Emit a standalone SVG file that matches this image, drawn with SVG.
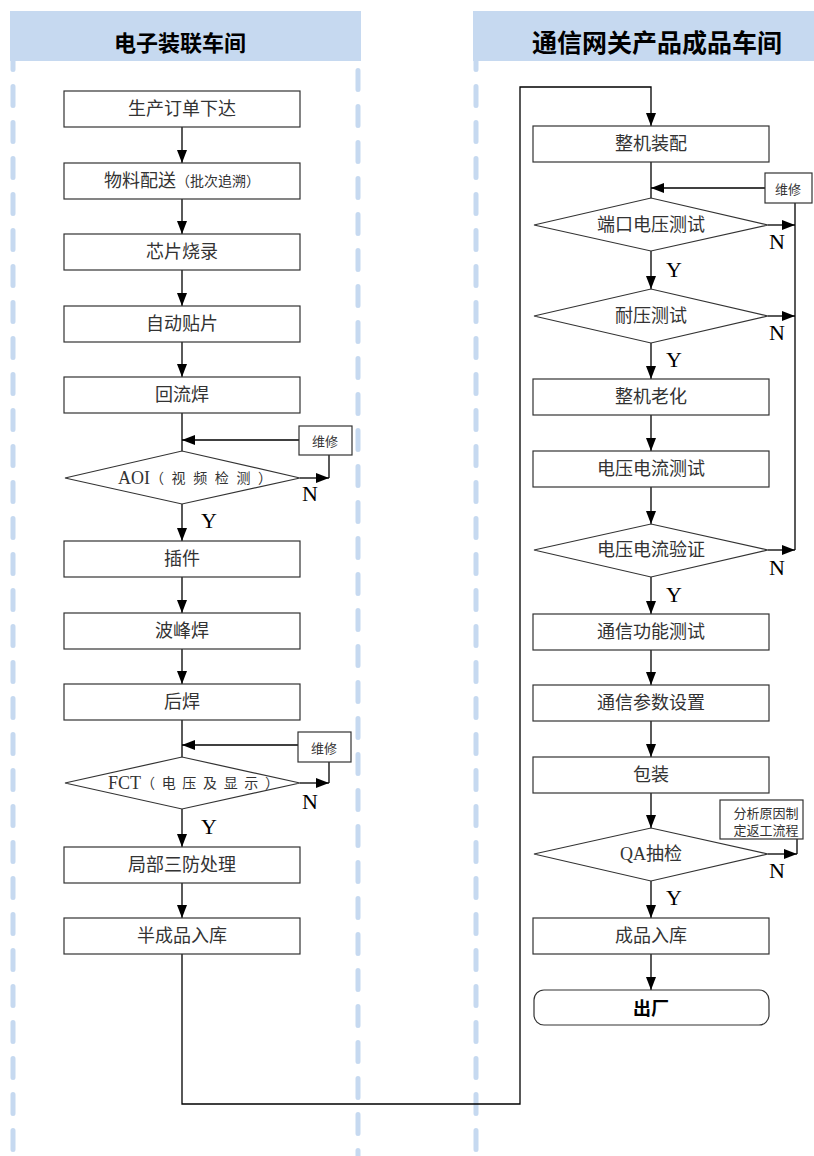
<svg xmlns="http://www.w3.org/2000/svg" width="814" height="1156" viewBox="0 0 814 1156">
<style>
.lane{stroke:#c6d9f0;stroke-width:5;stroke-linecap:round;stroke-dasharray:19 17;fill:none}
.hdr{fill:#c6d9f0}
.title{font-family:"Noto Sans CJK SC",sans-serif;font-weight:bold;fill:#000;text-anchor:middle;dominant-baseline:central}
.box{fill:#fff;stroke:#333;stroke-width:1.2}
.t{font-family:"Liberation Serif","Noto Sans CJK SC",serif;font-size:18px;fill:#333;text-anchor:middle;dominant-baseline:central}
.tl{font-family:"Liberation Serif","Noto Sans CJK SC",serif;font-size:18px;fill:#333;text-anchor:start;dominant-baseline:central}
.s{font-family:"Liberation Serif","Noto Sans CJK SC",serif;font-size:14px;fill:#333}
.sm{font-family:"Noto Sans CJK SC",sans-serif;font-size:13px;fill:#333;text-anchor:middle;dominant-baseline:central}
.yn{font-family:"Liberation Serif",serif;font-size:22px;fill:#000}
.c{fill:none;stroke:#000;stroke-width:1.3}
.end{font-family:"Noto Sans CJK SC",sans-serif;font-size:18px;font-weight:bold;fill:#000;text-anchor:middle;dominant-baseline:central}
</style>
<defs>
<marker id="ah" markerUnits="userSpaceOnUse" markerWidth="14" markerHeight="12" refX="13" refY="5" orient="auto">
<path d="M0,0 L13,5 L0,10 Z" fill="#000"/>
</marker>
</defs>
<g id="lanes">
<line class="lane" x1="13" y1="50.5" x2="13" y2="1160"/>
<line class="lane" x1="358" y1="70.5" x2="358" y2="1160"/>
<line class="lane" x1="476" y1="50.5" x2="476" y2="1160"/>
<rect class="hdr" x="10" y="11" width="351" height="50"/>
<rect class="hdr" x="473" y="11" width="341" height="50"/>
<text class="title" x="180" y="41" font-size="22">电子装联车间</text>
<text class="title" x="657" y="41" font-size="25">通信网关产品成品车间</text>
</g>
<g id="connectors">
<path class="c" d="M182,127 V163" marker-end="url(#ah)"/>
<path class="c" d="M182,199 V234" marker-end="url(#ah)"/>
<path class="c" d="M182,270 V306" marker-end="url(#ah)"/>
<path class="c" d="M182,342 V377" marker-end="url(#ah)"/>
<path class="c" d="M182,413 V451"/>
<path class="c" d="M299,440 H182" marker-end="url(#ah)"/>
<path class="c" d="M329,455 V478"/>
<path class="c" d="M300,478 H329" marker-end="url(#ah)"/>
<path class="c" d="M182,504 V541" marker-end="url(#ah)"/>
<path class="c" d="M182,577 V613" marker-end="url(#ah)"/>
<path class="c" d="M182,649 V684" marker-end="url(#ah)"/>
<path class="c" d="M182,720 V757"/>
<path class="c" d="M298,745 H182" marker-end="url(#ah)"/>
<path class="c" d="M329,762 V783"/>
<path class="c" d="M300,783 H329" marker-end="url(#ah)"/>
<path class="c" d="M182,809 V847" marker-end="url(#ah)"/>
<path class="c" d="M182,883 V918" marker-end="url(#ah)"/>
<path class="c" d="M182,954 V1104 H520 V87 H651 V126" marker-end="url(#ah)"/>
<path class="c" d="M651,162 V198"/>
<path class="c" d="M765,188 H651" marker-end="url(#ah)"/>
<path class="c" d="M795,203 V550"/>
<path class="c" d="M768,225 H795" marker-end="url(#ah)"/>
<path class="c" d="M651,251 V289" marker-end="url(#ah)"/>
<path class="c" d="M768,316 H795" marker-end="url(#ah)"/>
<path class="c" d="M651,343 V379" marker-end="url(#ah)"/>
<path class="c" d="M651,415 V451" marker-end="url(#ah)"/>
<path class="c" d="M651,487 V524" marker-end="url(#ah)"/>
<path class="c" d="M768,550 H795" marker-end="url(#ah)"/>
<path class="c" d="M651,577 V614" marker-end="url(#ah)"/>
<path class="c" d="M651,650 V685" marker-end="url(#ah)"/>
<path class="c" d="M651,721 V757" marker-end="url(#ah)"/>
<path class="c" d="M651,793 V828" marker-end="url(#ah)"/>
<path class="c" d="M797,839 V854"/>
<path class="c" d="M768,854 H797" marker-end="url(#ah)"/>
<path class="c" d="M651,881 V918" marker-end="url(#ah)"/>
<path class="c" d="M651,954 V990" marker-end="url(#ah)"/>
</g>
<g id="n1"><rect class="box" x="64" y="91" width="236" height="36"/><text class="t" x="182" y="109">生产订单下达</text></g>
<g id="n2"><rect class="box" x="64" y="163" width="236" height="36"/><text class="t" x="182" y="181">物料配送<tspan font-size="14px">（批次追溯）</tspan></text></g>
<g id="n3"><rect class="box" x="64" y="234" width="236" height="36"/><text class="t" x="182" y="252">芯片烧录</text></g>
<g id="n4"><rect class="box" x="64" y="306" width="236" height="36"/><text class="t" x="182" y="324">自动贴片</text></g>
<g id="n5"><rect class="box" x="64" y="377" width="236" height="36"/><text class="t" x="182" y="395">回流焊</text></g>
<g id="r1"><rect class="box" x="299" y="426" width="53" height="29"/><text class="sm" x="325" y="440">维修</text></g>
<g id="d1"><polygon class="box" points="65,478 182,451 300,478 182,504"/><text class="tl" x="118" y="478">AOI<tspan class="s" textLength="122" lengthAdjust="spacing">（视频检测）</tspan></text></g>
<g id="n6"><rect class="box" x="64" y="541" width="236" height="36"/><text class="t" x="182" y="559">插件</text></g>
<g id="n7"><rect class="box" x="64" y="613" width="236" height="36"/><text class="t" x="182" y="631">波峰焊</text></g>
<g id="n8"><rect class="box" x="64" y="684" width="236" height="36"/><text class="t" x="182" y="702">后焊</text></g>
<g id="r2"><rect class="box" x="298" y="732" width="53" height="30"/><text class="sm" x="324" y="747">维修</text></g>
<g id="d2"><polygon class="box" points="65,783 182,757 300,783 182,809"/><text class="tl" x="108" y="783">FCT<tspan class="s" textLength="138" lengthAdjust="spacing">（电压及显示）</tspan></text></g>
<g id="n9"><rect class="box" x="64" y="847" width="236" height="36"/><text class="t" x="182" y="865">局部三防处理</text></g>
<g id="n10"><rect class="box" x="64" y="918" width="236" height="36"/><text class="t" x="182" y="936">半成品入库</text></g>
<g id="m1"><rect class="box" x="533" y="126" width="236" height="36"/><text class="t" x="651" y="144">整机装配</text></g>
<g id="r3"><rect class="box" x="765" y="173" width="47" height="30"/><text class="sm" x="788" y="188">维修</text></g>
<g id="md1"><polygon class="box" points="534,225 651,198 768,225 651,251"/><text class="t" x="651" y="225">端口电压测试</text></g>
<g id="md2"><polygon class="box" points="534,316 651,289 768,316 651,343"/><text class="t" x="651" y="316">耐压测试</text></g>
<g id="m2"><rect class="box" x="533" y="379" width="236" height="36"/><text class="t" x="651" y="397">整机老化</text></g>
<g id="m3"><rect class="box" x="533" y="451" width="236" height="36"/><text class="t" x="651" y="469">电压电流测试</text></g>
<g id="md3"><polygon class="box" points="534,550 651,524 768,550 651,577"/><text class="t" x="651" y="550">电压电流验证</text></g>
<g id="m4"><rect class="box" x="533" y="614" width="236" height="36"/><text class="t" x="651" y="632">通信功能测试</text></g>
<g id="m5"><rect class="box" x="533" y="685" width="236" height="36"/><text class="t" x="651" y="703">通信参数设置</text></g>
<g id="m6"><rect class="box" x="533" y="757" width="236" height="36"/><text class="t" x="651" y="775">包装</text></g>
<g id="r4"><rect class="box" x="720" y="800" width="83" height="39"/><text class="sm" x="766" y="812">分析原因制</text><text class="sm" x="766" y="829">定返工流程</text></g>
<g id="md4"><polygon class="box" points="534,854 651,828 768,854 651,881"/><text class="t" x="651" y="854">QA抽检</text></g>
<g id="m7"><rect class="box" x="533" y="918" width="236" height="36"/><text class="t" x="651" y="936">成品入库</text></g>
<g id="m8"><rect class="box" x="534" y="990" width="235" height="35" rx="10"/><text class="end" x="651" y="1007">出厂</text></g>
<g id="labels">
<text class="yn" x="302" y="501">N</text>
<text class="yn" x="201" y="528">Y</text>
<text class="yn" x="302" y="809">N</text>
<text class="yn" x="201" y="834">Y</text>
<text class="yn" x="769" y="249">N</text>
<text class="yn" x="666" y="277">Y</text>
<text class="yn" x="769" y="340">N</text>
<text class="yn" x="666" y="367">Y</text>
<text class="yn" x="769" y="575">N</text>
<text class="yn" x="666" y="602">Y</text>
<text class="yn" x="769" y="878">N</text>
<text class="yn" x="666" y="905">Y</text>
</g>
</svg>
